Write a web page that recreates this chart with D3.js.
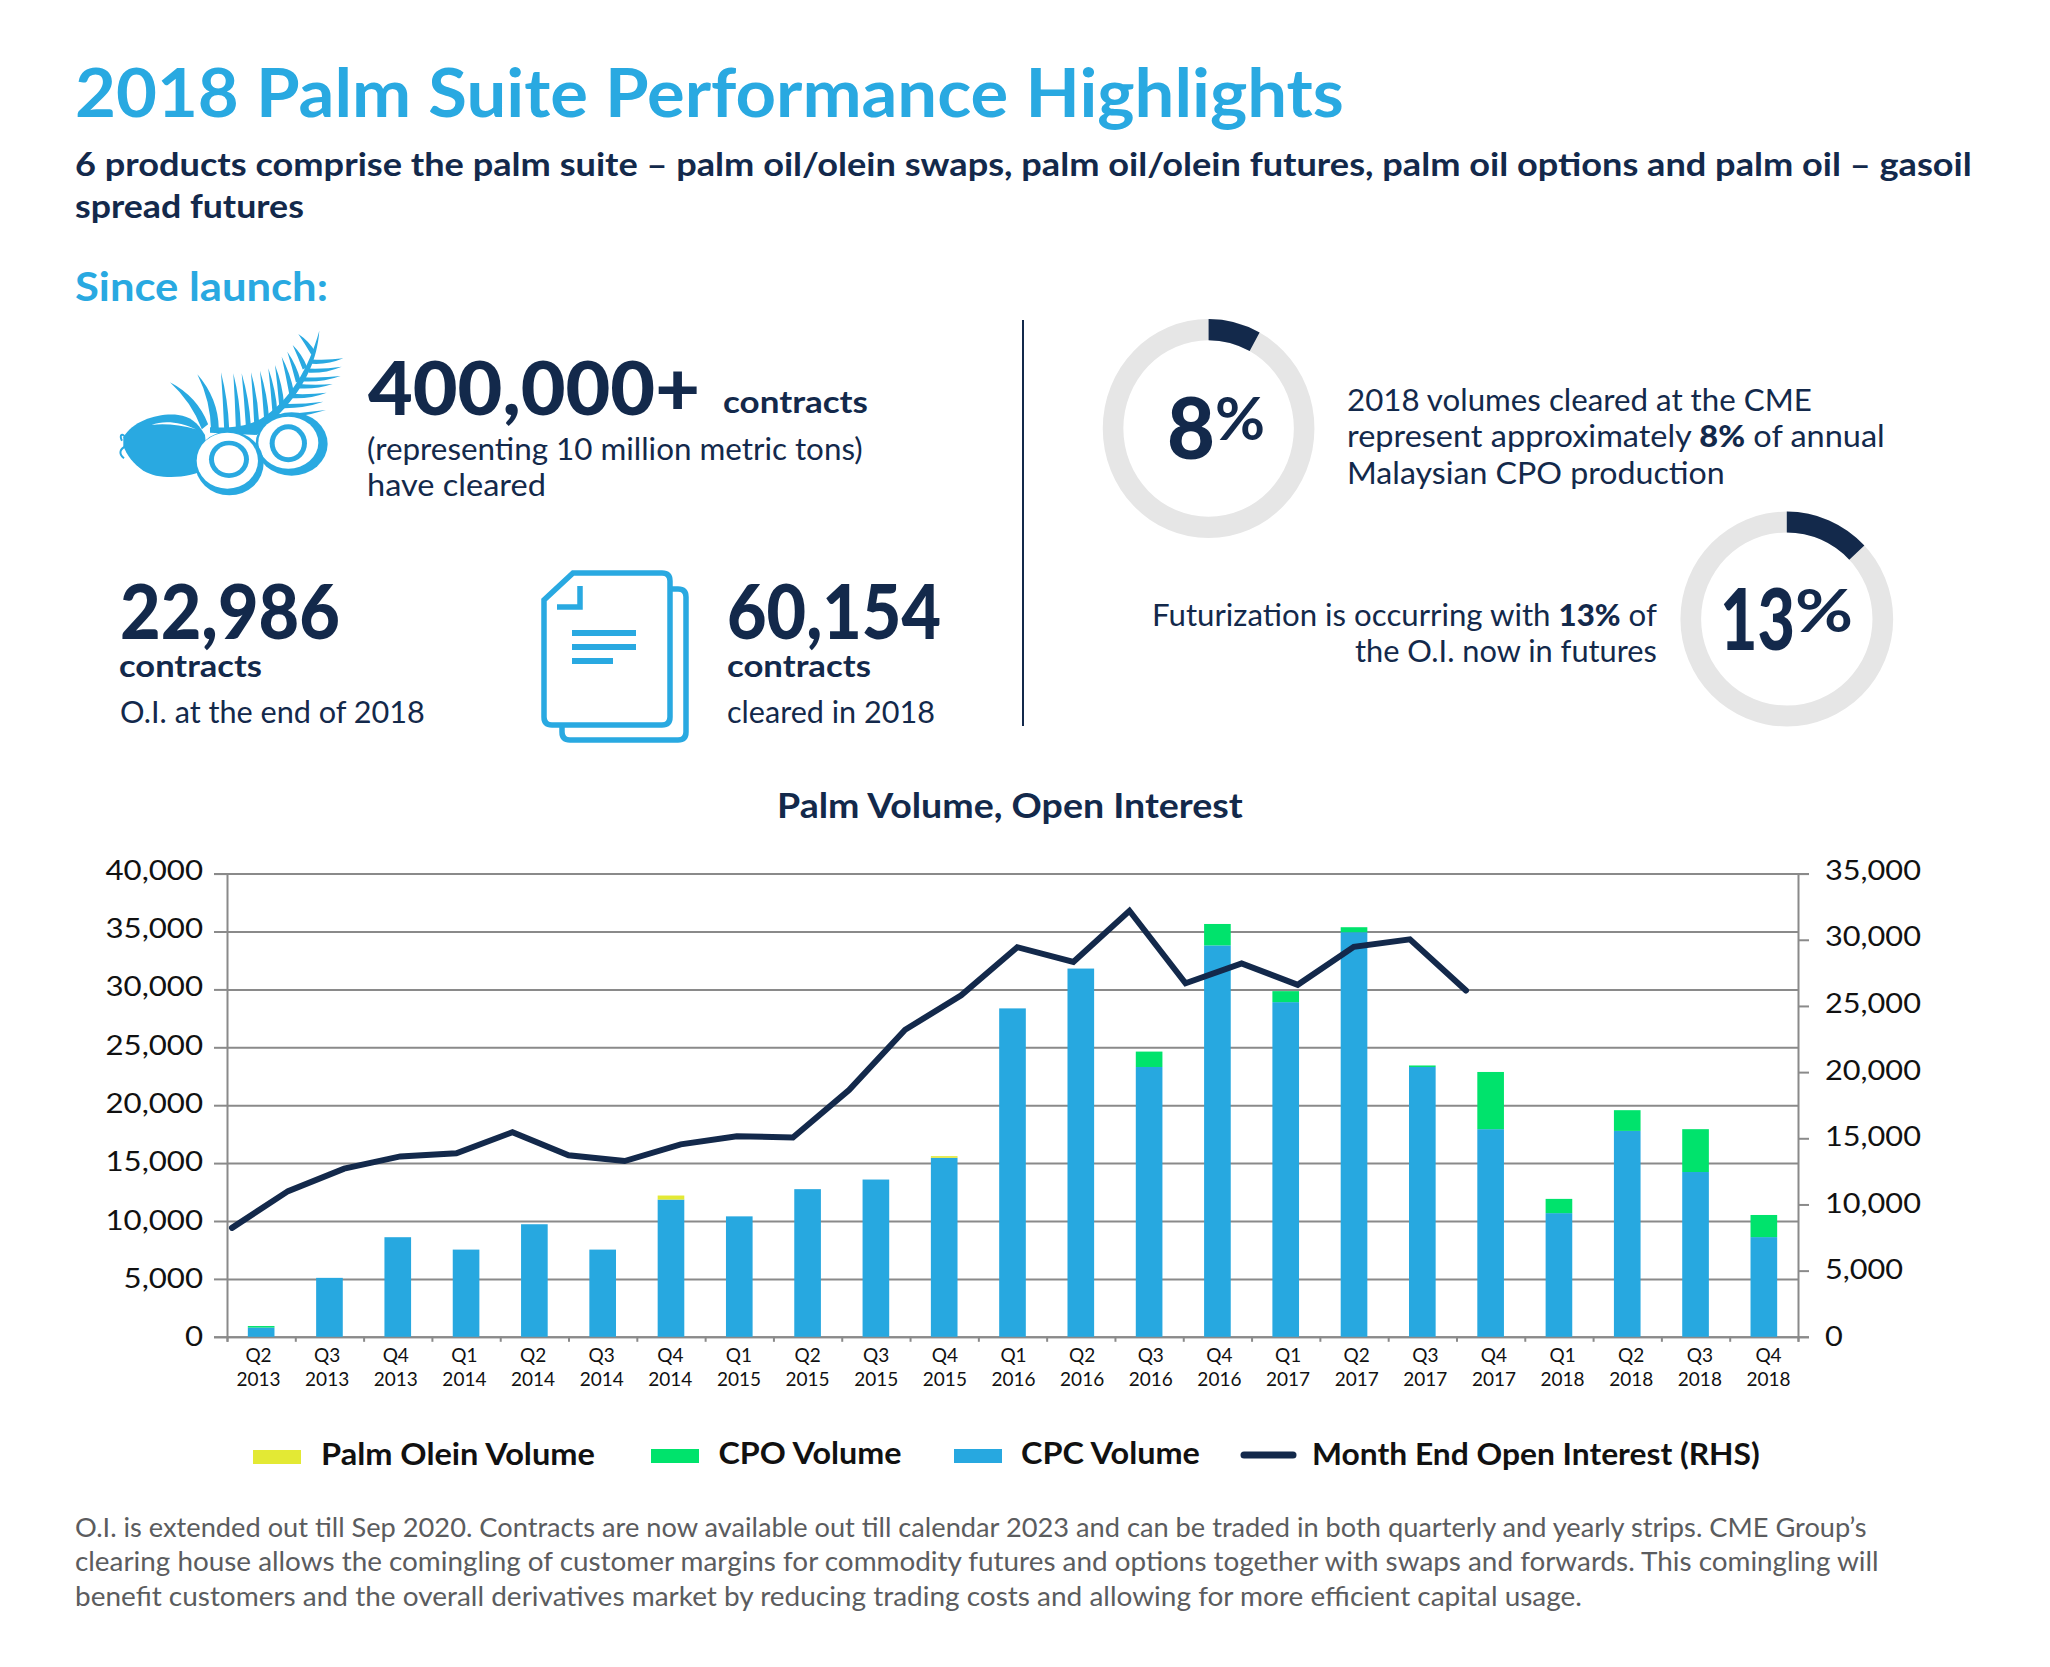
<!DOCTYPE html>
<html><head><meta charset="utf-8">
<script src="https://cdnjs.cloudflare.com/ajax/libs/d3/7.8.5/d3.min.js"></script>
<style>html,body{margin:0;padding:0;background:#fff}svg{display:block}text{font-family:Lato,"Noto Sans",sans-serif}</style>
</head><body><svg id="c" width="2050" height="1667"></svg>
<script>
const quarters=["Q2 2013","Q3 2013","Q4 2013","Q1 2014","Q2 2014","Q3 2014","Q4 2014","Q1 2015","Q2 2015","Q3 2015","Q4 2015","Q1 2016","Q2 2016","Q3 2016","Q4 2016","Q1 2017","Q2 2017","Q3 2017","Q4 2017","Q1 2018","Q2 2018","Q3 2018","Q4 2018"];
const cpcVolume=[800,5090,8600,7530,9720,7530,11850,10400,12750,13580,15460,28360,31800,23300,33800,28900,34940,23300,17930,10680,17780,14230,8610];
const cpoVolume=[130,0,0,0,0,0,0,0,0,0,0,0,0,1330,1850,950,430,130,4940,1230,1790,3700,1910];
const oleinVolume=[0,0,0,0,0,0,350,0,0,0,140,0,0,0,0,0,0,0,0,0,0,0,0];
const openInterest=[8230,11010,12710,13630,13870,15460,13710,13280,14540,15160,15060,18650,23200,25800,29440,28330,32190,26710,28220,26600,29470,30030,26170];
const leftTicks=[0,5000,10000,15000,20000,25000,30000,35000,40000];
const rightTicks=[0,5000,10000,15000,20000,25000,30000,35000];
const legendNames=["Palm Olein Volume","CPO Volume","CPC Volume","Month End Open Interest (RHS)"];
const donutShares=[0.08,0.13];

const BLUE="#29A9E1",NAVY="#13294B",GRID="#8a8a8a";
const colors={olein:"#E3E934",cpo:"#00E36C",cpc:"#27A8E0"};
const svg=d3.select("#c");
svg.append("rect").attr("width",2050).attr("height",1667).attr("fill","#fff");

function T(parts,x,y,size,weight,color,width,anchor){
  const g=svg.append("text").attr("font-size",size).attr("font-weight",weight).attr("fill",color);
  (Array.isArray(parts)?parts:[[parts,weight]]).forEach(p=>g.append("tspan").attr("font-weight",p[1]).text(p[0]));
  const n=g.node().getComputedTextLength();
  const k=width?width/n:1;
  const ox=anchor==="end"?-n*k:0;
  g.attr("transform",`translate(${x+ox},${y}) scale(${k},1)`);
  return g;
}
T("2018 Palm Suite Performance Highlights",75,117,67,700,BLUE,1269);
T("6 products comprise the palm suite – palm oil/olein swaps, palm oil/olein futures, palm oil options and palm oil – gasoil",75,176,33,700,NAVY,1897);
T("spread futures",75,218,33,700,NAVY,229);
T("Since launch:",75,301,40,700,BLUE,253);

T("400,000+",368,415,74,900,NAVY,332);
T("contracts",723,413,31,700,NAVY,145);
T("(representing 10 million metric tons)",367,460,30,400,NAVY,496);
T("have cleared",367,496,30,400,NAVY,179);
T("22,986",120,639,76,900,NAVY,220);
T("contracts",119,677,31,700,NAVY,143);
T("O.I. at the end of 2018",120,723,30,400,NAVY,305);
T("60,154",727,639,76,900,NAVY,214);
T("contracts",727,677,31,700,NAVY,144);
T("cleared in 2018",727,723,30,400,NAVY,208);

svg.append("line").attr("x1",1023).attr("x2",1023).attr("y1",320).attr("y2",726).attr("stroke",NAVY).attr("stroke-width",2);

// palm icon
const icon=svg.append("g").attr("transform","translate(110,320) scale(0.3333)").attr("fill",BLUE);
function leaf(t,b,w,bend){
  const dx=b[0]-t[0],dy=b[1]-t[1],L=Math.hypot(dx,dy),nx=-dy/L,ny=dx/L;
  const c=[(t[0]+b[0])/2+nx*bend,(t[1]+b[1])/2+ny*bend];
  return `M${t}Q${c[0]+nx*w/2},${c[1]+ny*w/2} ${b[0]+nx*w/2},${b[1]+ny*w/2}L${b[0]-nx*w/2},${b[1]-ny*w/2}Q${c[0]-nx*w/2},${c[1]-ny*w/2} ${t}Z`;
}
const leftTips=[[180,187],[262,163],[333,157],[370,160],[395,160],[423,157],[450,152],[475,145],[495,135],[515,110],[532,95],[548,75],[565,42]];
const leftBases=[[285,320],[315,330],[350,325],[385,322],[415,316],[440,308],[470,298],[495,278],[515,255],[545,220],[565,185],[585,145],[610,100]];
leftTips.forEach((t,i)=>icon.append("path").attr("d",leaf(t,leftBases[i],i<2?24:15,i<2?-26:-5)));
const rightTips=[[700,115],[695,140],[692,168],[668,192],[650,218],[640,245],[648,270]];
const rightBases=[[605,125],[595,152],[580,178],[560,198],[545,228],[515,258],[485,290]];
rightTips.forEach((t,i)=>icon.append("path").attr("d",leaf(t,rightBases[i],13,-8)));
icon.append("path").attr("d","M300,338L300,322C380,325 430,315 470,285C540,235 595,150 628,32C622,120 585,190 540,245C500,295 460,325 440,345Z");
icon.append("path").attr("d","M40,352C70,300 150,278 205,285C240,290 262,305 285,345L295,445C240,475 150,482 100,452C70,432 50,405 40,378Z");
icon.append("path").attr("d","M50,358C38,335 26,345 36,362M50,378C30,385 24,400 42,415").attr("fill","none").attr("stroke",BLUE).attr("stroke-width",6);
icon.append("path").attr("d","M125,315C160,300 210,305 258,328C210,315 165,310 125,315Z").attr("fill","#fff");
[[545,372,108,95,535,368,90,78,535,370,56,57,41,42],[358,430,103,96,352,422,92,84,357,418,60,56,45,42]].forEach(f=>{
  icon.append("ellipse").attr("cx",f[0]).attr("cy",f[1]).attr("rx",f[2]).attr("ry",f[3]);
  icon.append("ellipse").attr("cx",f[4]).attr("cy",f[5]).attr("rx",f[6]).attr("ry",f[7]).attr("fill","#fff");
  icon.append("ellipse").attr("cx",f[8]).attr("cy",f[9]).attr("rx",f[10]).attr("ry",f[11]);
  icon.append("ellipse").attr("cx",f[8]).attr("cy",f[9]).attr("rx",f[12]).attr("ry",f[13]).attr("fill","#fff");
});

// document icon
const doc=svg.append("g").attr("fill","none").attr("stroke",BLUE).attr("stroke-width",5.5);
doc.append("path").attr("d","M670,589h8q8,0 8,8v135q0,8 -8,8h-108q-8,0 -8,-8v-7");
doc.append("path").attr("d","M573,573h89q8,0 8,8v136q0,8 -8,8h-110q-8,0 -8,-8v-117z").attr("fill","#fff");
doc.append("path").attr("d","M580,586v21h-23");
[[572,636,633],[572,636,647],[572,613,661]].forEach(l=>doc.append("line").attr("x1",l[0]).attr("x2",l[1]).attr("y1",l[2]).attr("y2",l[2]).attr("stroke-width",6));

// donuts
const arc=d3.arc().innerRadius(87).outerRadius(108);
[[1208.6,428.5,0.98,1.015],[1786.8,619,0.985,0.995]].forEach((p,i)=>{
  const g=svg.append("g").attr("transform",`translate(${p[0]},${p[1]}) scale(${p[2]},${p[3]})`);
  g.append("path").attr("d",arc({startAngle:0,endAngle:2*Math.PI})).attr("fill","#E6E6E6");
  g.append("path").attr("d",arc({startAngle:0,endAngle:2*Math.PI*donutShares[i]})).attr("fill",NAVY);
});
T("8",1167,459,86,900,NAVY,48);
T("%",1215,440,60,700,NAVY,50);
T("13",1720,650,86,900,NAVY,75);
T("%",1795,632,60,700,NAVY,58);
T("2018 volumes cleared at the CME",1347,411,30,400,NAVY,465);
T([["represent approximately ",400],["8%",900],[" of annual",400]],1347,447,30,400,NAVY,538);
T("Malaysian CPO production",1347,484,30,400,NAVY,378);
T([["Futurization is occurring with ",400],["13%",900],[" of",400]],1152,626,30,400,NAVY,505);
T("the O.I. now in futures",1657,662,30,400,NAVY,302,"end");

T("Palm Volume, Open Interest",777,818,34,700,NAVY,466);

// chart
const x0=227,x1=1798,yB=1336.8,yT=873.6;
const x=d3.scaleBand().domain(quarters).range([x0,x1]).paddingInner(0.61).paddingOuter(0.305);
const xLabel=d3.scalePoint().domain(quarters).range([258,1768]);
const xLine=d3.scalePoint().domain(quarters).range([232,1466]);
const xEdges=d3.scaleLinear().domain([0,quarters.length]).range([x0,x1]);
const yL=d3.scaleLinear().domain([0,40000]).range([yB,yT]);
const yR=d3.scaleLinear().domain([0,35000]).range([yB,yT]);

const table=quarters.map((q,i)=>({q,cpc:cpcVolume[i],cpo:cpoVolume[i],olein:oleinVolume[i]}));
const stack=d3.stack().keys(["cpc","cpo","olein"])(table);

function styleAxis(g){g.selectAll("path.domain,line").attr("stroke",GRID).attr("stroke-width",2);g.selectAll("text").attr("fill","#111").style("font-family","Lato");}
function widen(g,k,max){g.selectAll("text").each(function(d){
  const t=d3.select(this),n=this.getComputedTextLength();
  t.attr("textLength",n*k).attr("lengthAdjust","spacingAndGlyphs").attr("y",-1.5+3*(1-d/max));});}

const gridG=svg.append("g").attr("transform",`translate(${x0},0)`)
  .call(d3.axisLeft(yL).tickValues(leftTicks).tickSize(-(x1-x0)).tickSizeOuter(0).tickFormat(""));
gridG.select(".domain").remove();gridG.call(styleAxis);

const leftG=svg.append("g").attr("transform",`translate(${x0},0)`)
  .call(d3.axisLeft(yL).tickValues(leftTicks).tickSize(13).tickPadding(11).tickFormat(d3.format(",")));
leftG.call(styleAxis);leftG.selectAll("text").attr("font-size",26).attr("dy","0.28em");widen(leftG,1.2,40000);

const rightG=svg.append("g").attr("transform",`translate(${x1},0)`)
  .call(d3.axisRight(yR).tickValues(rightTicks).tickSize(11).tickPadding(16).tickFormat(d3.format(",")));
rightG.call(styleAxis);rightG.selectAll("text").attr("font-size",26).attr("dy","0.28em");widen(rightG,1.18,35000);

const edgeG=svg.append("g").attr("transform",`translate(0,${yB})`)
  .call(d3.axisBottom(xEdges).tickValues(d3.range(quarters.length+1)).tickSize(5).tickFormat(""));
edgeG.call(styleAxis);

const labelG=svg.append("g").attr("transform",`translate(0,${yB})`)
  .call(d3.axisBottom(xLabel).tickSize(0).tickPadding(0).tickFormat(""));
labelG.select(".domain").remove();
labelG.selectAll("text").each(function(d){
  const t=d3.select(this).attr("font-size",19).attr("fill","#111").attr("y",0).attr("dy",null).text(null);
  d.split(" ").forEach((s,i)=>t.append("tspan").attr("x",0).attr("y",25+i*24).text(s));
});

const barG=svg.append("g");
stack.forEach(s=>{
  barG.selectAll(null).data(s.filter(d=>d[1]>d[0])).join("rect")
    .attr("x",d=>x(d.data.q)).attr("width",x.bandwidth())
    .attr("y",d=>yL(d[1])).attr("height",d=>yL(d[0])-yL(d[1]))
    .attr("fill",colors[s.key]);
});
svg.append("path").datum(openInterest)
  .attr("d",d3.line().x((d,i)=>xLine(quarters[i])).y(d=>yR(d)))
  .attr("fill","none").attr("stroke",NAVY).attr("stroke-width",6).attr("stroke-linecap","round").attr("stroke-linejoin","miter");

// legend
const swatches=d3.scaleOrdinal().domain(legendNames).range([[253,1450,colors.olein],[651,1449,colors.cpo],[954,1449,colors.cpc]]);
legendNames.slice(0,3).forEach(n=>{const s=swatches(n);svg.append("rect").attr("x",s[0]).attr("y",s[1]).attr("width",48).attr("height",14).attr("fill",s[2]);});
svg.append("line").attr("x1",1244).attr("x2",1293).attr("y1",1455).attr("y2",1455).attr("stroke",NAVY).attr("stroke-width",7).attr("stroke-linecap","round");
T(legendNames[0],321,1465,30,700,"#111",274);
T(legendNames[1],718.5,1464,30,700,"#111",183);
T(legendNames[2],1021,1464,30,700,"#111",179);
T(legendNames[3],1312,1465,30,700,"#111",448);

// footnote
const GREY="#5b5c5e";
T("O.I. is extended out till Sep 2020. Contracts are now available out till calendar 2023 and can be traded in both quarterly and yearly strips. CME Group’s",75,1537,26,400,GREY,1792);
T("clearing house allows the comingling of customer margins for commodity futures and options together with swaps and forwards. This comingling will",75,1571,26,400,GREY,1804);
T("benefit customers and the overall derivatives market by reducing trading costs and allowing for more efficient capital usage.",75,1606,26,400,GREY,1507);
</script></body></html>
